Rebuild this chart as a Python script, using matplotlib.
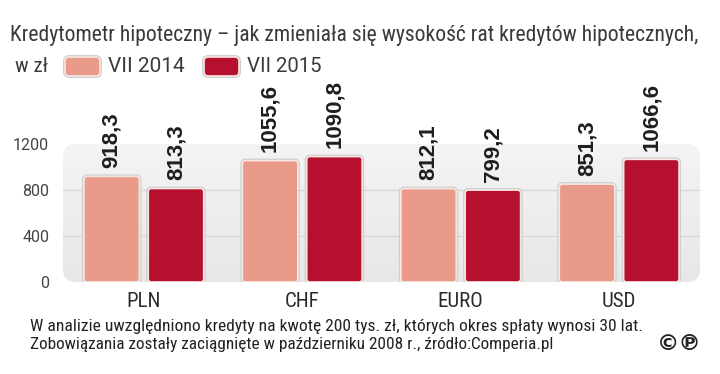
import matplotlib
matplotlib.use("Agg")
import matplotlib.pyplot as plt
import numpy as np
from matplotlib.patches import FancyBboxPatch
import matplotlib.patheffects as pe
from matplotlib import font_manager as fm

# ---- data ----
categories = ["PLN", "CHF", "EURO", "USD"]
series_names = ["VII 2014", "VII 2015"]
values_2014 = [918.3, 1055.6, 812.1, 851.3]
values_2015 = [813.3, 1090.8, 799.2, 1066.6]
yticks = [0, 400, 800, 1200]
title = "Kredytometr hipoteczny – jak zmieniała się wysokość rat kredytów hipotecznych,"
unit = "w zł"
note1 = "W analizie uwzględniono kredyty na kwotę 200 tys. zł, których okres spłaty wynosi 30 lat."
note2 = "Zobowiązania zostały zaciągnięte w październiku 2008 r., źródło:Comperia.pl"

c_light = "#E99A89"
c_dark = "#B5112E"

installed = {f.name for f in fm.fontManager.ttflist}
def pick(cands):
    for c in cands:
        if c in installed:
            return [c, "DejaVu Sans"]
    return ["DejaVu Sans"]

NARROW = pick(["Roboto Condensed", "Liberation Sans Narrow", "Open Sans Condensed", "Roboto", "Liberation Sans"])
SANS = pick(["Liberation Sans", "Roboto"])
HUMAN = pick(["Roboto", "Liberation Sans"])

W, H = 720, 374
fig = plt.figure(figsize=(W / 100, H / 100), dpi=100)
fig.patch.set_facecolor("white")
renderer = fig.canvas.get_renderer()

def fit(t, target):
    for _ in range(3):
        w = t.get_window_extent(renderer).width
        t.set_fontsize(t.get_fontsize() * target / w)

ax = fig.add_axes([63 / W, (H - 282) / H, 637 / W, 138 / H])
ax.set_facecolor("none")
for s in ax.spines.values():
    s.set_visible(False)

# rounded gradient background
bg = FancyBboxPatch((0, 0), 1, 1, boxstyle="round,pad=0,rounding_size=0.02",
                    mutation_aspect=637 / 138, transform=ax.transAxes,
                    facecolor="none", edgecolor="none", zorder=0)
ax.add_patch(bg)
grad = np.linspace(0, 1, 100).reshape(-1, 1)
im = ax.imshow(grad, extent=(0, 1, 0, 1), transform=ax.transAxes, aspect="auto",
               cmap=matplotlib.colors.LinearSegmentedColormap.from_list("g", ["#f4f4f5", "#e7e7ea"]),
               origin="upper", zorder=0)
im.set_clip_path(bg)

x = np.arange(len(categories))
bw = 0.35
off = 0.203
ax.set_xlim(-0.51, len(categories) - 0.49)
ax.set_ylim(0, 1200)

for yv in yticks[1:-1]:
    ax.axhline(yv, color="#d6d6d8", lw=0.9, zorder=1)

def draw(vals, pos, color):
    bars = ax.bar(pos, vals, bw, color=color, zorder=2)
    xpx = 637 / (ax.get_xlim()[1] - ax.get_xlim()[0])
    ypx = 138 / 1200
    for r in bars:
        r.set_visible(False)
        fb = FancyBboxPatch((r.get_x(), r.get_y()), r.get_width(), r.get_height(),
                            boxstyle="round,pad=0,rounding_size=%f" % (3 / xpx),
                            mutation_aspect=xpx / ypx,
                            facecolor=color, edgecolor="#f8e6e2", lw=1.2, zorder=3,
                            path_effects=[pe.Stroke(linewidth=2.8, foreground="#cdcdcd"), pe.Normal()])
        ax.add_patch(fb)
    for xi, v in zip(pos, vals):
        ax.annotate(("%.1f" % v).replace(".", ","), (xi, v), xytext=(0, 6),
                    textcoords="offset points", rotation=90, ha="center", va="bottom",
                    fontsize=16, fontweight="bold", family=SANS,
                    color="#1e1e1e", annotation_clip=False, zorder=4)

draw(values_2014, x - off, c_light)
draw(values_2015, x + off, c_dark)

ax.set_yticks(yticks)
ax.set_yticklabels([str(t) for t in yticks], fontsize=11.5, color="#444444", family=HUMAN)
ax.set_xticks(x)
ax.set_xticklabels(categories, fontsize=15, color="#2a2a2a", family=NARROW)
ax.tick_params(axis="y", length=0, pad=10)
ax.tick_params(axis="x", length=0, pad=7)

# title
tt = fig.text(10 / W, 1 - 36 / H, title, fontsize=14, color="#3a3a3a", family=NARROW,
              ha="left", va="center")
fit(tt, 690)
# legend row
tu = fig.text(15 / W, 1 - 66 / H, unit, fontsize=14, color="#3a3a3a", family=NARROW,
              ha="left", va="center")
fit(tu, 33)
for (x0, lab, col, tw) in [(65, series_names[0], c_light, 77), (204, series_names[1], c_dark, 75)]:
    p = FancyBboxPatch((x0 / W, 1 - 76 / H), 35 / W, 19 / H,
                       boxstyle="round,pad=0,rounding_size=0.006", mutation_aspect=W / H,
                       transform=fig.transFigure, facecolor=col, edgecolor="#f8e6e2", lw=1.2,
                       path_effects=[pe.Stroke(linewidth=2.8, foreground="#cdcdcd"), pe.Normal()])
    fig.add_artist(p)
    tl = fig.text((x0 + 43) / W, 1 - 66 / H, lab, fontsize=14, color="#3a3a3a", family=HUMAN,
                  ha="left", va="center")
    fit(tl, tw)

# footnote
n1 = fig.text(30 / W, 1 - 326 / H, note1, fontsize=11, color="#222222", family=NARROW,
              ha="left", va="center")
fit(n1, 612)
n2 = fig.text(30 / W, 1 - 344 / H, note2, fontsize=11, color="#222222", family=NARROW,
              ha="left", va="center")
fit(n2, 523)
fig.text(701 / W, 1 - 344 / H, "©℗", fontsize=16, fontweight="bold", color="#222222",
         family=["DejaVu Sans"], ha="right", va="center")

fig.savefig("out.png", dpi=100)
